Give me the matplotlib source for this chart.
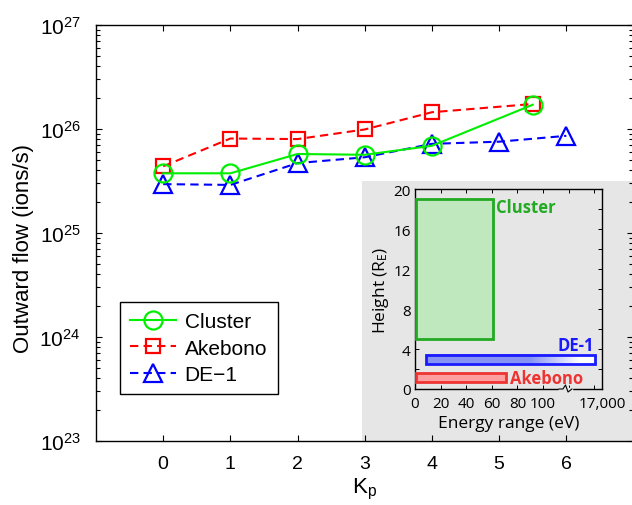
import numpy as np
import matplotlib
matplotlib.use("Agg")
import matplotlib.pyplot as plt
from matplotlib.patches import Rectangle
from matplotlib.ticker import FixedLocator, FixedFormatter, LogLocator, NullFormatter

# ---------------- data ----------------
kp_cluster = [0, 1, 2, 3, 4, 5.5]
flow_cluster = [3.75e25, 3.75e25, 5.75e25, 5.65e25, 6.9e25, 1.71e26]
kp_akebono = [0, 1, 2, 3, 4, 5.5]
flow_akebono = [4.38e25, 8.1e25, 8.0e25, 9.9e25, 1.45e26, 1.74e26]
kp_de1 = [0, 1, 2, 3, 4, 5, 6]
flow_de1 = [2.95e25, 2.9e25, 4.7e25, 5.35e25, 7.2e25, 7.55e25, 8.6e25]

x_ticks = [0, 1, 2, 3, 4, 5, 6]
y_ticks = [1e23, 1e24, 1e25, 1e26, 1e27]
y_ticklabels = [r"$10^{23}$", r"$10^{24}$", r"$10^{25}$", r"$10^{26}$", r"$10^{27}$"]

# inset data: (energy min, energy max, height min, height max)
missions = ["Cluster", "DE-1", "Akebono"]
energy_lo = [0.5, 8.4, 0.5]
energy_hi = [61, 140.6, 71]
height_lo = [5, 2.5, 0.75]
height_hi = [19, 3.45, 1.6]
inset_xticks = [0, 20, 40, 60, 80, 100, 120, 140, 146]
inset_xticklabels = ["0", "20", "40", "60", "80", "100", "", "", "17,000"]
inset_yticks = [0, 4, 8, 12, 16, 20]

plt.rcParams['font.family'] = ['Liberation Sans', 'DejaVu Sans']
plt.rcParams['mathtext.fontset'] = 'custom'
plt.rcParams['mathtext.rm'] = 'Liberation Sans'
plt.rcParams['mathtext.it'] = 'Liberation Sans:italic'

W, H = 632, 506
fig = plt.figure(figsize=(W / 100, H / 100), dpi=100)

def fx(px):
    return px / W

def fy(py):
    return 1 - py / H

L, R, T, B = 96, 633.5, 26, 442
ax = fig.add_axes([fx(L), fy(B), (R - L) / W, (B - T) / H])

# grey panel behind inset
grey = '#e6e6e6'
ax.add_patch(Rectangle(((362 - L) / (R - L), 0), 1, (B - 182) / (B - T),
                       transform=ax.transAxes, facecolor=grey, edgecolor='none', zorder=1))

l3, = ax.plot(kp_de1, flow_de1, color='#0000ff', ls='--', dashes=(4, 2.5), lw=1.5,
              marker='^', ms=13, mfc='none', mec='#0000ff', mew=1.6, zorder=3)
l2, = ax.plot(kp_akebono, flow_akebono, color='#ff0000', ls='--', dashes=(4, 2.5), lw=1.5,
              marker='s', ms=10, mfc='none', mec='#ff0000', mew=1.6, zorder=3)
l1, = ax.plot(kp_cluster, flow_cluster, color='#00ee00', ls='-', lw=1.5,
              marker='o', ms=13, mfc='none', mec='#00ee00', mew=1.6, zorder=3)

ax.set_yscale('log')
ax.set_xlim(-1, 7)
ax.set_ylim(1e23, 1e27)
ax.set_xticks(x_ticks)
ax.set_xticklabels([str(t) for t in x_ticks], fontsize=14)
ax.yaxis.set_major_locator(FixedLocator(y_ticks))
ax.yaxis.set_major_formatter(FixedFormatter(y_ticklabels))
ax.yaxis.set_minor_locator(LogLocator(base=10, subs=np.arange(2, 10)))
ax.yaxis.set_minor_formatter(NullFormatter())
ax.tick_params(axis='y', which='major', labelsize=15, pad=11)
ax.tick_params(axis='x', which='major', pad=10)
ax.tick_params(which='both', direction='in', top=True, right=True, width=0.8)
ax.tick_params(which='major', length=4)
ax.tick_params(which='minor', length=3)
for s in ax.spines.values():
    s.set_linewidth(1.0)

ax.set_xlabel(r"K$_\mathregular{p}$", fontsize=16, labelpad=3)
ax.set_ylabel("Outward flow (ions/s)", fontsize=16)
ax.yaxis.set_label_coords((34 - L) / (R - L), (B - 249) / (B - T))

leg = ax.legend([l1, l2, l3], ["Cluster", "Akebono", "DE\u22121"],
                loc='upper left', bbox_to_anchor=((120 - L) / (R - L), (B - 303) / (B - T)),
                borderaxespad=0, fontsize=15, fancybox=False, framealpha=1,
                edgecolor='black', handlelength=2.2, handletextpad=0.4,
                labelspacing=0.35, borderpad=0.5)
leg.get_frame().set_linewidth(1.0)

# ---------------- inset ----------------
iL, iR, iT, iB = 415, 602, 190, 390
ia = fig.add_axes([fx(iL), fy(iB), (iR - iL) / W, (iB - iT) / H], facecolor=grey)
ifont = ['Open Sans', 'DejaVu Sans']
ia.set_xlim(0, 146)
ia.set_ylim(0, 20)

edge_cols = ['#22aa22', '#1a1aff', '#ee3333']
fill_cols = ['#bfe8bf', None, '#ff9e9e']
for i, m in enumerate(missions):
    x0, x1 = energy_lo[i], energy_hi[i]
    y0, y1 = height_lo[i], height_hi[i]
    if fill_cols[i] is None:
        xs = np.linspace(x0, x1, 300)
        t = np.clip((xs - 90) / (128 - 90), 0, 1)
        c0 = np.array([0.53, 0.58, 0.96])
        c1 = np.array([1.0, 1.0, 1.0])
        img = (c0[None, :] * (1 - t[:, None]) + c1[None, :] * t[:, None])[None, :, :]
        ia.imshow(img, extent=[x0, x1, y0, y1], aspect='auto', zorder=2, interpolation='bilinear')
        ia.add_patch(Rectangle((x0, y0), x1 - x0, y1 - y0, facecolor='none',
                               edgecolor=edge_cols[i], lw=2.0, zorder=3))
    else:
        ia.add_patch(Rectangle((x0, y0), x1 - x0, y1 - y0, facecolor=fill_cols[i],
                               edgecolor=edge_cols[i], lw=2.0, zorder=3))
ia.set_xlim(0, 146)
ia.set_ylim(0, 20)

ia.text(63, 18.2, "Cluster", color='#22aa22', fontsize=12, fontweight='bold',
        family=ifont, ha='left', va='center')
ia.text(140, 4.4, "DE-1", color='#1a1aff', fontsize=12, fontweight='bold',
        family=ifont, ha='right', va='center')
ia.text(74, 1.1, "Akebono", color='#ee3333', fontsize=12, fontweight='bold',
        family=ifont, ha='left', va='center')

ia.set_xticks(inset_xticks)
ia.set_xticklabels(inset_xticklabels, family=ifont, fontsize=11)
ia.set_yticks(inset_yticks)
ia.set_yticklabels([str(t) for t in inset_yticks], family=ifont, fontsize=11)
ia.yaxis.set_minor_locator(FixedLocator(np.arange(0, 21, 2)))
ia.tick_params(which='both', direction='in', top=True, right=True, width=0.7)
ia.tick_params(axis='x', which='major', pad=5)
ia.tick_params(axis='y', which='major', pad=3)
ia.tick_params(which='major', length=3)
ia.tick_params(which='minor', length=3)
for s in ia.spines.values():
    s.set_linewidth(1.0)
ia.set_xlabel("Energy range (eV)", family=ifont, fontsize=12.5, labelpad=3)
ia.set_ylabel(r"Height (R$_\mathregular{E}$)", family=ifont, fontsize=12.5, labelpad=2)

# axis break mark
ia.plot([113.5, 121.5], [0, 0], color=grey, lw=2.5, clip_on=False, zorder=5)
ia.plot([112.5, 115.5, 117.5, 119.5, 122.5], [0, 0, 0.4, -0.3, 0], color='black',
        lw=0.8, clip_on=False, zorder=6)

fig.savefig("out.png", dpi=100)
